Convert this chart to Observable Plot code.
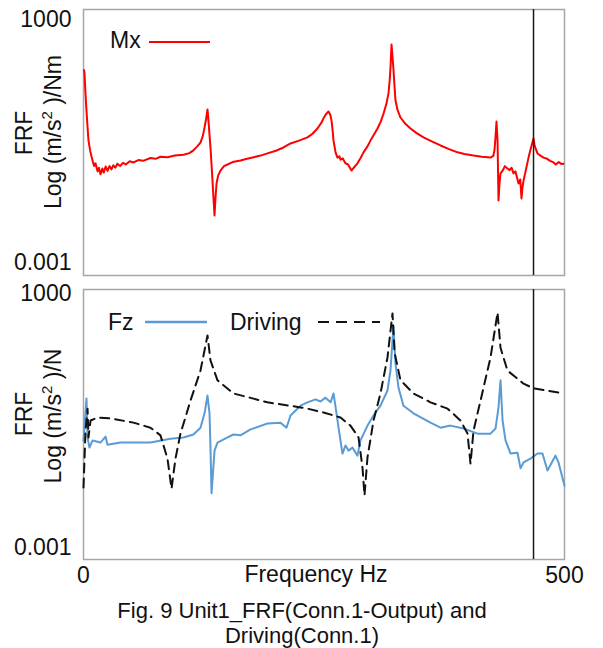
<!DOCTYPE html>
<html><head><meta charset="utf-8">
<script src="https://cdn.jsdelivr.net/npm/d3@7"></script>
<script src="https://cdn.jsdelivr.net/npm/@observablehq/plot@0.6"></script>
<style>
body{margin:0;background:#fff;font-family:"Liberation Sans",Arial,sans-serif;}
#wrap{position:relative;width:603px;height:648px;overflow:hidden;}
#top{position:absolute;left:0;top:0;}
#bot{position:absolute;left:0;top:280px;}
#ov{position:absolute;left:0;top:0;pointer-events:none;}
</style></head><body>
<div id="wrap"><div id="top"></div><div id="bot"></div>
<svg id="ov" width="603" height="648" font-family="Liberation Sans, Arial, sans-serif" fill="#111">
  <text transform="translate(32,133) rotate(-90)" text-anchor="middle" font-size="23">FRF</text>
  <text transform="translate(61,132) rotate(-90)" text-anchor="middle" font-size="23">Log (m/s<tspan dy="-9" font-size="15">2</tspan><tspan dy="9"> )/Nm</tspan></text>
  <text transform="translate(32,414) rotate(-90)" text-anchor="middle" font-size="23">FRF</text>
  <text transform="translate(61,416) rotate(-90)" text-anchor="middle" font-size="23">Log (m/s<tspan dy="-9" font-size="15">2</tspan><tspan dy="9"> )/N</tspan></text>
  <text x="110" y="48" font-size="23">Mx</text>
  <line x1="149" x2="210" y1="42" y2="42" stroke="#ff0000" stroke-width="2"/>
  <text x="108" y="330" font-size="23">Fz</text>
  <line x1="145" x2="207" y1="322" y2="322" stroke="#5b9bd5" stroke-width="2.5"/>
  <text x="230" y="330" font-size="23">Driving</text>
  <line x1="318" x2="380" y1="322" y2="322" stroke="#111" stroke-width="2" stroke-dasharray="11,7"/>
  <text x="316" y="582" text-anchor="middle" font-size="23">Frequency Hz</text>
  <text x="302" y="618" text-anchor="middle" font-size="22">Fig. 9 Unit1_FRF(Conn.1-Output) and</text>
  <text x="302" y="643" text-anchor="middle" font-size="22">Driving(Conn.1)</text>
</svg>
</div>
<script>
// Frequencies in Hz, FRF values as log10 of the magnitude
const mxFreq = [0.5,1.0,2.0,3.1,4.2,5.2,7.0,9.4,11,12.5,14.6,16,17.7,19.5,21,23,25,27,29,31,33,35.3,38,41,44,48,52,57,62,69.6,75,80,87.3,95,104,110,114.3,118,121.6,124,125.8,127.5,128.9,129.9,131,132,133,134.1,135.2,136.2,137.2,138.3,140,142.4,146,149.7,155,163.2,170,177,184,192,200,207.9,215.2,224,232.8,238,243.2,247,249.5,252,254.7,256.5,257.8,259,259.9,262,264,266,267.2,269.5,272.3,275,278.6,281,284.8,288,291.1,295,298.3,302,305.6,309,311.9,315,317,318.3,319.1,320.2,321.3,322.3,323.3,324.3,326.5,329.5,334,339.9,346,353.4,362,371.1,380,388.8,396,405.4,414,423.1,426,427.2,428.3,429.3,430.4,431.4,432.4,433.5,436,438,440.7,443,445,447,449,452.2,454,455.3,456.3,457.4,460,462.6,465,467.8,469,472,475,478.2,482,485,488.6,491,494,497,499];
const mxLog = [1.75,1.69,1.2,0.75,0.35,0.01,-0.25,-0.48,-0.62,-0.55,-0.75,-0.66,-0.82,-0.68,-0.78,-0.63,-0.74,-0.62,-0.70,-0.60,-0.66,-0.56,-0.62,-0.54,-0.58,-0.50,-0.53,-0.47,-0.49,-0.42,-0.44,-0.39,-0.40,-0.36,-0.34,-0.30,-0.23,-0.14,-0.04,0.12,0.33,0.55,0.78,0.51,0.15,-0.16,-0.55,-0.98,-1.45,-1.84,-1.40,-1.05,-0.85,-0.73,-0.62,-0.58,-0.52,-0.48,-0.44,-0.40,-0.36,-0.30,-0.24,-0.16,-0.06,0.01,0.09,0.18,0.31,0.44,0.56,0.66,0.73,0.65,0.51,0.25,0.01,-0.28,-0.41,-0.38,-0.46,-0.43,-0.55,-0.58,-0.73,-0.66,-0.55,-0.42,-0.28,-0.14,0.01,0.16,0.31,0.48,0.68,0.93,1.17,1.50,1.81,2.38,2.05,1.74,1.35,1.0,0.76,0.58,0.44,0.31,0.20,0.09,-0.01,-0.11,-0.20,-0.28,-0.32,-0.36,-0.39,-0.41,-0.37,-0.23,0.10,0.48,0.01,-1.47,-1.05,-0.80,-0.72,-0.62,-0.68,-0.72,-0.66,-0.80,-0.75,-1.05,-0.95,-1.42,-1.15,-0.98,-0.70,-0.41,-0.18,0.06,-0.12,-0.31,-0.36,-0.41,-0.44,-0.49,-0.53,-0.58,-0.52,-0.57,-0.56];

const fzFreq = [0,3.1,4.2,6.2,9.4,17.7,22.9,24.9,38.5,69.6,90.4,103.9,114.3,121.6,125.8,128.9,131,132,133.1,136.2,139.3,149.7,155.9,163.2,173.6,191.2,204.8,211,215.2,225.6,232.8,241.2,246.4,251.6,256.8,259.9,263,265.1,269.2,272.3,275.5,279.6,284.8,287.9,295.2,301.5,308.7,316,319.1,321.2,322.2,324.3,327.4,332.6,343,360.7,371.1,381.5,395,409.6,423.1,428.3,431.4,433.5,435.6,438.7,443.9,451.1,454.3,457.4,464.6,472,477.1,482.3,490.6,493.8,500];
const fzLog = [-0.47,0.52,-0.40,-0.64,-0.47,-0.52,-0.38,-0.57,-0.52,-0.52,-0.43,-0.40,-0.33,-0.17,0.17,0.59,0.17,-0.64,-1.72,-0.71,-0.52,-0.40,-0.33,-0.35,-0.21,-0.07,-0.05,-0.17,0.12,0.35,0.43,0.50,0.45,0.54,0.43,0.64,0.17,-0.17,-0.78,-0.59,-0.71,-0.64,-0.83,-0.47,-0.12,0.12,0.35,0.71,1.18,1.89,2.24,1.35,0.78,0.35,0.17,-0.05,-0.17,-0.12,-0.19,-0.31,-0.31,-0.19,0.31,0.95,0.00,-0.47,-0.78,-0.76,-1.13,-0.99,-0.90,-0.78,-0.78,-1.18,-0.83,-0.99,-1.54];

const drvFreq = [0,2.1,4.2,5.2,7.3,14.6,28.1,52,69.6,80,87.3,91.5,95.6,100.8,111.2,121.6,128.9,132,139.3,155.9,191.2,225.6,232.8,249.5,267.2,277.5,285.9,290,292.1,295.2,301.5,308.7,316,321.2,323.3,329.5,343,360.7,378.4,391.9,399.2,402.3,405.4,412.7,423.1,430.4,433.5,440.7,457.4,467.8,499];
const drvLog = [-1.58,-0.24,0.28,-0.40,0.00,0.07,0.05,-0.05,-0.17,-0.35,-0.90,-1.61,-0.90,-0.31,0.47,1.18,2.01,1.42,0.95,0.64,0.43,0.31,0.28,0.19,0.07,-0.12,-0.40,-1.11,-1.77,-0.87,0.00,0.64,1.49,2.53,1.61,0.95,0.64,0.43,0.28,0.00,-0.31,-1.02,-0.24,0.47,1.49,2.55,1.72,1.18,0.87,0.76,0.64];

const markerHz = [467.8];
const xTicks = [0, 500];
const yTicks = [0.001, 1000];
const yTickLabels = ["0.001", "1000"];

const toRows = (f, v) => f.map((x, i) => ({f: x, v: v[i]}));
const mxData = toRows(mxFreq, mxLog);
const fzData = toRows(fzFreq, fzLog);
const drvData = toRows(drvFreq, drvLog);
const fmtY = d => yTickLabels[yTicks.indexOf(d)];
const baseStyle = {fontFamily: '"Liberation Sans", Arial, sans-serif', fontSize: "23px", color: "#111", background: "transparent", overflow: "visible"};

const topPlot = Plot.plot({
  width: 603, height: 280,
  marginLeft: 83, marginRight: 39, marginTop: 9, marginBottom: 5,
  style: baseStyle,
  x: {domain: [0, 500], axis: null},
  y: {type: "log", domain: [Math.pow(10, -3.321), Math.pow(10, 3.247)], axis: null},
  marks: [
    Plot.frame({stroke: "#a6a6a6", strokeWidth: 1.5}),
    Plot.axisY(yTicks, {tickSize: 0, tickPadding: 12, tickFormat: fmtY, fontSize: 23}),
    Plot.line(mxData, {x: "f", y: d => 10 ** d.v, stroke: "#ff0000", strokeWidth: 2}),
    Plot.ruleX(markerHz, {stroke: "#1a1a1a", strokeWidth: 1.5})
  ]
});
document.getElementById("top").append(topPlot);

const botPlot = Plot.plot({
  width: 603, height: 310,
  marginLeft: 83, marginRight: 39, marginTop: 9, marginBottom: 31,
  style: baseStyle,
  x: {domain: [0, 500], axis: null},
  y: {type: "log", domain: [Math.pow(10, -3.283), Math.pow(10, 3.095)], axis: null},
  marks: [
    Plot.frame({stroke: "#a6a6a6", strokeWidth: 1.5}),
    Plot.axisY(yTicks, {tickSize: 0, tickPadding: 12, tickFormat: fmtY, fontSize: 23}),
    Plot.axisX(xTicks, {tickSize: 0, tickPadding: 7, tickFormat: d => String(d), fontSize: 23, label: null}),
    Plot.line(fzData, {x: "f", y: d => 10 ** d.v, stroke: "#5b9bd5", strokeWidth: 2}),
    Plot.line(drvData, {x: "f", y: d => 10 ** d.v, stroke: "#111", strokeWidth: 2, strokeDasharray: "9,6"}),
    Plot.ruleX(markerHz, {stroke: "#1a1a1a", strokeWidth: 1.5})
  ]
});
document.getElementById("bot").append(botPlot);
</script>
</body></html>
